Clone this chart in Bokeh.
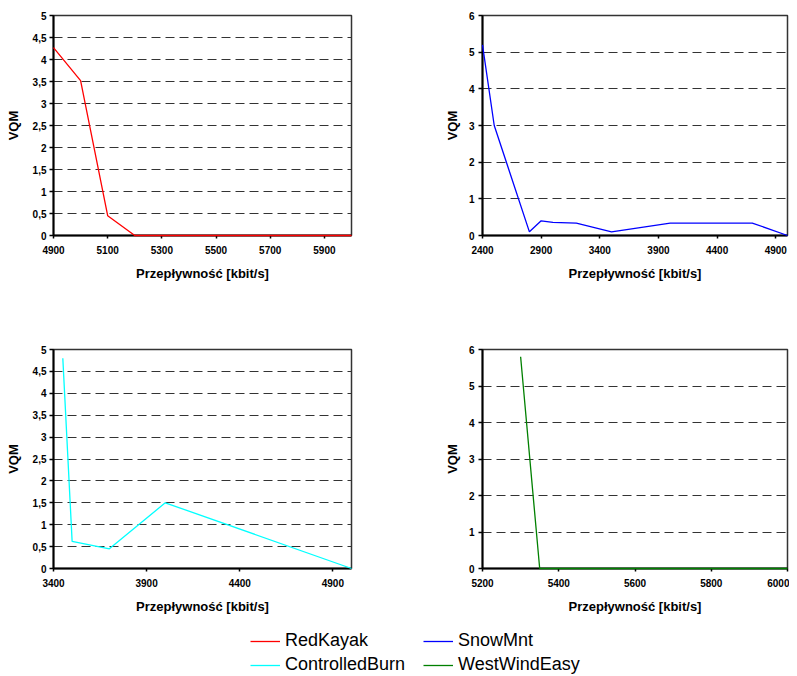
from bokeh.plotting import figure
from bokeh.models import Range1d, FixedTicker, Legend, LegendItem
from bokeh.layouts import column, row
from bokeh.embed import file_html
from bokeh.resources import INLINE

# ---- data ----
red_x = [4900, 5000, 5100, 5200, 6000]
red_y = [4.27, 3.52, 0.45, 0.0, 0.0]

blue_x = [2400, 2500, 2800, 2900, 3000, 3200, 3500, 4000, 4700, 5000]
blue_y = [5.2, 3.0, 0.1, 0.4, 0.36, 0.34, 0.1, 0.34, 0.34, 0.0]

cyan_x = [3450, 3500, 3700, 4000, 5000]
cyan_y = [4.8, 0.62, 0.45, 1.5, 0.0]

green_x = [5300, 5350, 6000]
green_y = [5.8, 0.0, 0.0]

ticks_x1 = [4900, 5100, 5300, 5500, 5700, 5900]
ticks_x2 = [2400, 2900, 3400, 3900, 4400, 4900]
ticks_x3 = [3400, 3900, 4400, 4900]
ticks_x4 = [5200, 5400, 5600, 5800, 6000]
ticks_y5 = [0, 0.5, 1, 1.5, 2, 2.5, 3, 3.5, 4, 4.5, 5]
ticks_y6 = [0, 1, 2, 3, 4, 5, 6]

names = ["RedKayak", "SnowMnt", "ControlledBurn", "WestWindEasy"]
colors = ["#ff0000", "#0000ff", "#00ffff", "#008000"]

FONT = "Liberation Sans"
XLABEL = "Przepływność [kbit/s]"
YLABEL = "VQM"


def panel(xs, ys, color, xr, yr, xt, yt, width, height, bl, br, bt, bb,
          y_lab_standoff, y_tick_standoff):
    p = figure(width=width, height=height, output_backend="svg",
               toolbar_location=None,
               x_range=Range1d(*xr), y_range=Range1d(*yr),
               min_border_left=bl, min_border_right=br,
               min_border_top=bt, min_border_bottom=bb)
    p.background_fill_color = "white"
    p.border_fill_color = "white"
    p.outline_line_color = "#333333"
    p.outline_line_width = 1.5
    p.xgrid.visible = False
    p.ygrid.grid_line_color = "#333333"
    p.ygrid.grid_line_dash = "9 5"
    p.ygrid.grid_line_width = 1
    p.ygrid.ticker = FixedTicker(ticks=yt)

    p.xaxis.ticker = FixedTicker(ticks=xt)
    p.yaxis.ticker = FixedTicker(ticks=yt)
    p.yaxis.major_label_overrides = {t: str(t).replace(".", ",") for t in yt if t != int(t)}
    for ax in (p.xaxis[0], p.yaxis[0]):
        ax.axis_line_color = "black"
        ax.axis_line_width = 2
        ax.major_tick_line_color = "black"
        ax.major_tick_line_width = 1.5
        ax.major_tick_in = 0
        ax.minor_tick_out = 0
        ax.minor_tick_in = 0
        ax.major_label_text_font = FONT
        ax.major_label_text_font_style = "bold"
        ax.major_label_text_font_size = "10px"
        ax.major_label_text_color = "black"
        ax.axis_label_text_font = FONT
        ax.axis_label_text_font_style = "bold"
        ax.axis_label_text_font_size = "13px"
        ax.axis_label_text_color = "black"
    p.xaxis.major_tick_out = 3
    p.xaxis.major_label_standoff = 7
    p.xaxis.axis_label_standoff = 9
    p.xaxis.axis_label = XLABEL
    p.yaxis.major_tick_out = 4
    p.yaxis.major_label_standoff = y_tick_standoff
    p.yaxis.axis_label_standoff = y_lab_standoff
    p.yaxis.axis_label = YLABEL

    p.line(xs, ys, line_color=color, line_width=1.3, level="overlay")
    return p


p1 = panel(red_x, red_y, colors[0], (4900, 6000), (0, 5), ticks_x1, ticks_y5,
           400, 338, 53, 49, 15, 103, 9, 3)
p2 = panel(blue_x, blue_y, colors[1], (2400, 5000), (0, 6), ticks_x2, ticks_y6,
           389, 338, 82, 2, 15, 103, 6, 4)
p3 = panel(cyan_x, cyan_y, colors[2], (3400, 5000), (0, 5), ticks_x3, ticks_y5,
           400, 284, 53, 49, 11, 51, 9, 3)
p4 = panel(green_x, green_y, colors[3], (5200, 6000), (0, 6), ticks_x4, ticks_y6,
           389, 284, 82, 2, 11, 54, 6, 4)

# ---- legend strip ----
lf = figure(width=789, height=54, output_backend="svg", toolbar_location=None,
            x_range=Range1d(0, 1), y_range=Range1d(0, 1),
            min_border=0, x_axis_location=None, y_axis_location=None)
lf.outline_line_color = None
lf.grid.visible = False
# legend-only renderers, placed outside the visible range
rs = [lf.line([-10, -9], [-10, -10], line_color=c, line_width=1.3) for c in colors]


def make_legend(items, x):
    lg = Legend(items=items, location=(x, 1), orientation="vertical",
                padding=0, margin=0, spacing=3,
                glyph_width=30, glyph_height=20, label_height=20,
                label_standoff=5, border_line_alpha=0,
                background_fill_alpha=0,
                label_text_font=FONT, label_text_font_size="18px",
                label_text_color="black")
    return lg


lg1 = make_legend([LegendItem(label=names[0], renderers=[rs[0]]),
                   LegendItem(label=names[2], renderers=[rs[2]])], 250)
lg2 = make_legend([LegendItem(label=names[1], renderers=[rs[1]]),
                   LegendItem(label=names[3], renderers=[rs[3]])], 423)
lf.add_layout(lg1, "center")
lf.add_layout(lg2, "center")

layout = column(row(p1, p2), row(p3, p4), lf)

open("out.html", "w").write(file_html(layout, INLINE))
